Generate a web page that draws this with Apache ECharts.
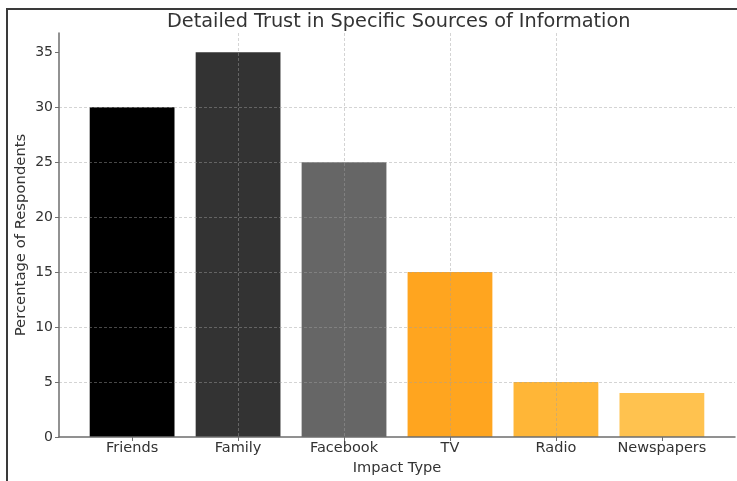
<!DOCTYPE html>
<html>
<head>
<meta charset="utf-8">
<script src="https://cdn.jsdelivr.net/npm/echarts@6/dist/echarts.min.js"></script>
<style>
html,body{margin:0;padding:0;background:#fff;}
#wrap{position:relative;width:737px;height:481px;overflow:hidden;background:#fff;}
#frame{position:absolute;left:6px;top:8px;width:800px;height:600px;border-top:2px solid #3a3a3a;border-left:2px solid #3a3a3a;box-sizing:border-box;}
#chart{position:absolute;left:0;top:0;width:737px;height:481px;}
</style>
</head>
<body>
<div id="wrap"><div id="frame"></div><div id="chart"></div></div>
<script>
const categories = ['Friends', 'Family', 'Facebook', 'TV', 'Radio', 'Newspapers'];
const values = [30, 35, 25, 15, 5, 4];
const yTicks = [0, 5, 10, 15, 20, 25, 30, 35];
const palette = ['#000000', '#333333', '#666666', '#FFA51F', '#FFB637', '#FFC24F'];

const FONT = 'DejaVu Sans';
const gridLine = { show: true, showMinLine: false, showMaxLine: false,
  lineStyle: { color: 'rgba(160,160,160,0.45)', width: 1, type: [3, 2] } };
const xPositions = categories.map((c, i) => i);

const chart = echarts.init(document.getElementById('chart'), null, { renderer: 'canvas' });
chart.setOption({
  animation: false,
  backgroundColor: 'transparent',
  title: {
    text: 'Detailed Trust in Specific Sources of Information',
    left: 162, top: 7,
    textStyle: { fontFamily: FONT, fontSize: 19.3, fontWeight: 'normal', color: '#333' }
  },
  grid: { left: 59, right: 2, top: 33, bottom: 44, containLabel: false },
  xAxis: {
    type: 'value',
    min: -0.69, max: 5.69,
    z: 5,
    name: 'Impact Type', nameLocation: 'middle', nameGap: 24, nameMoveOverlap: false,
    nameTextStyle: { fontFamily: FONT, fontSize: 14.6, color: '#333' },
    axisLine: { show: true, onZero: false, lineStyle: { color: '#6e6e6e', width: 1.5 } },
    axisTick: { show: true, length: 4, customValues: xPositions, lineStyle: { color: '#6e6e6e' } },
    axisLabel: {
      customValues: xPositions,
      fontFamily: FONT, fontSize: 14.5, color: '#333', margin: 4,
      formatter: v => (Number.isInteger(v) && categories[v] !== undefined) ? categories[v] : ''
    },
    splitLine: gridLine
  },
  yAxis: {
    type: 'value',
    min: 0, max: 36.75,
    interval: 5,
    z: 5,
    name: 'Percentage of Respondents', nameLocation: 'middle', nameGap: 30, nameMoveOverlap: false,
    nameTextStyle: { fontFamily: FONT, fontSize: 14.8, color: '#333' },
    axisLine: { show: true, onZero: false, lineStyle: { color: '#6e6e6e', width: 1.5 } },
    axisTick: { show: true, length: 4, customValues: yTicks, lineStyle: { color: '#6e6e6e' } },
    axisLabel: {
      customValues: yTicks,
      fontFamily: FONT, fontSize: 14, color: '#333', margin: 6
    },
    splitLine: gridLine
  },
  series: [{
    type: 'bar',
    barWidth: 84.8,
    z: 2,
    data: values.map((v, i) => ({ value: [i, v], itemStyle: { color: palette[i] } }))
  }]
});
</script>
</body>
</html>
